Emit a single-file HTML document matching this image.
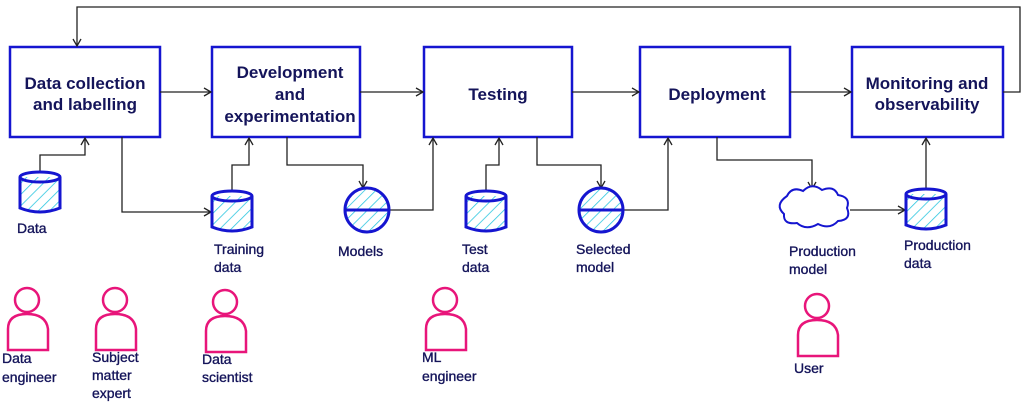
<!DOCTYPE html>
<html><head><meta charset="utf-8"><style>
html,body{margin:0;padding:0;background:#fff;}
svg{display:block;}
text{font-family:"Liberation Sans",sans-serif;fill:#14145a;}
.t{font-size:17px;font-weight:bold;text-anchor:middle;}
.l{font-size:14px;stroke:#14145a;stroke-width:0.35;}
</style></head><body>
<svg width="1031" height="403" viewBox="0 0 1031 403" xmlns="http://www.w3.org/2000/svg">
<defs>
<pattern id="h" width="8" height="8" patternUnits="userSpaceOnUse" patternTransform="rotate(45)">
<line x1="0" y1="0" x2="0" y2="8" stroke="#2cc6e0" stroke-width="1.6"/>
</pattern>
<marker id="a" markerWidth="10" markerHeight="10" refX="8" refY="5" orient="auto" markerUnits="userSpaceOnUse">
<path d="M1,1 L8,5 L1,9" fill="none" stroke="#222" stroke-width="1.3"/>
</marker>
<g id="cyl">
<rect x="0" y="5" width="40" height="34" fill="url(#h)"/>
<path d="M0,5 L0,36 Q20,44 40,36 L40,5" fill="none" stroke="#1515d0" stroke-width="3"/>
<ellipse cx="20" cy="5" rx="20" ry="5" fill="none" stroke="#1515d0" stroke-width="3"/>
</g>
<g id="circ">
<circle cx="0" cy="0" r="22" fill="url(#h)" stroke="#1515d0" stroke-width="3"/>
<line x1="-22" y1="0" x2="22" y2="0" stroke="#1515d0" stroke-width="3"/>
</g>
<g id="per">
<circle cx="22" cy="13" r="12" fill="none" stroke="#e8157a" stroke-width="2.5"/>
<path d="M3,63 L3,42 Q3,27 22,27 Q41,27 43,42 L43,63 Z" fill="none" stroke="#e8157a" stroke-width="2.5"/>
</g>
</defs>
<g fill="#fff" stroke="#1515d0" stroke-width="2.5">
<rect x="10" y="47" width="150" height="90"/>
<rect x="212" y="47" width="148" height="90"/>
<rect x="424" y="47" width="148" height="90"/>
<rect x="640" y="47" width="150" height="90"/>
<rect x="852" y="47" width="151" height="90"/>
</g>
<text class="t" x="85" y="89">Data collection</text>
<text class="t" x="85" y="110">and labelling</text>
<text class="t" x="290" y="78">Development</text>
<text class="t" x="290" y="100">and</text>
<text class="t" x="290" y="122">experimentation</text>
<text class="t" x="498" y="100">Testing</text>
<text class="t" x="717" y="100">Deployment</text>
<text class="t" x="927" y="89">Monitoring and</text>
<text class="t" x="927" y="110">observability</text>
<g fill="none" stroke="#222" stroke-width="1.3" marker-end="url(#a)">
<path d="M1003,92 L1020,92 L1020,7 L77,7 L77,46"/>
<path d="M160,92 L211,92"/>
<path d="M360,92 L423,92"/>
<path d="M572,92 L639,92"/>
<path d="M790,92 L851,92"/>
<path d="M40,173 L40,155 L85,155 L85,138"/>
<path d="M122,137 L122,212 L211,212"/>
<path d="M232,192 L232,165 L249,165 L249,138"/>
<path d="M287,137 L287,165 L363,165 L363,188"/>
<path d="M389,210 L433,210 L433,138"/>
<path d="M486,192 L486,165 L499,165 L499,138"/>
<path d="M537,137 L537,165 L601,165 L601,188"/>
<path d="M623,210 L668,210 L668,138"/>
<path d="M717,137 L717,160 L812,160 L812,189"/>
<path d="M850,210 L905,210"/>
<path d="M926,190 L926,138"/>
</g>
<use href="#cyl" x="20" y="172"/>
<use href="#cyl" x="212" y="191"/>
<use href="#cyl" x="466" y="191"/>
<use href="#cyl" x="906" y="189"/>
<use href="#circ" x="367" y="210"/>
<use href="#circ" x="601" y="210"/>
<path d="M787,196 Q792,186 803,191 Q812,182 822,190 Q834,185 838,195 Q851,197 847,208 Q852,220 838,221 Q830,230 818,224 Q806,231 797,223 Q783,225 784,214 Q774,205 787,196 Z" fill="#fff" stroke="#1515d0" stroke-width="2"/>
<text class="l" x="17" y="233">Data</text>
<text class="l" x="214" y="254">Training</text><text class="l" x="214" y="272">data</text>
<text class="l" x="338" y="256">Models</text>
<text class="l" x="462" y="254">Test</text><text class="l" x="462" y="272">data</text>
<text class="l" x="576" y="254">Selected</text><text class="l" x="576" y="272">model</text>
<text class="l" x="789" y="256">Production</text><text class="l" x="789" y="274">model</text>
<text class="l" x="904" y="250">Production</text><text class="l" x="904" y="268">data</text>
<use href="#per" x="5" y="287"/>
<use href="#per" x="93" y="287"/>
<use href="#per" x="203" y="289"/>
<use href="#per" x="423" y="287"/>
<use href="#per" x="795" y="293"/>
<text class="l" x="2" y="363">Data</text><text class="l" x="2" y="382">engineer</text>
<text class="l" x="92" y="362">Subject</text><text class="l" x="92" y="380">matter</text><text class="l" x="92" y="398">expert</text>
<text class="l" x="202" y="364">Data</text><text class="l" x="202" y="382">scientist</text>
<text class="l" x="422" y="362">ML</text><text class="l" x="422" y="381">engineer</text>
<text class="l" x="794" y="373">User</text>
</svg>
</body></html>
